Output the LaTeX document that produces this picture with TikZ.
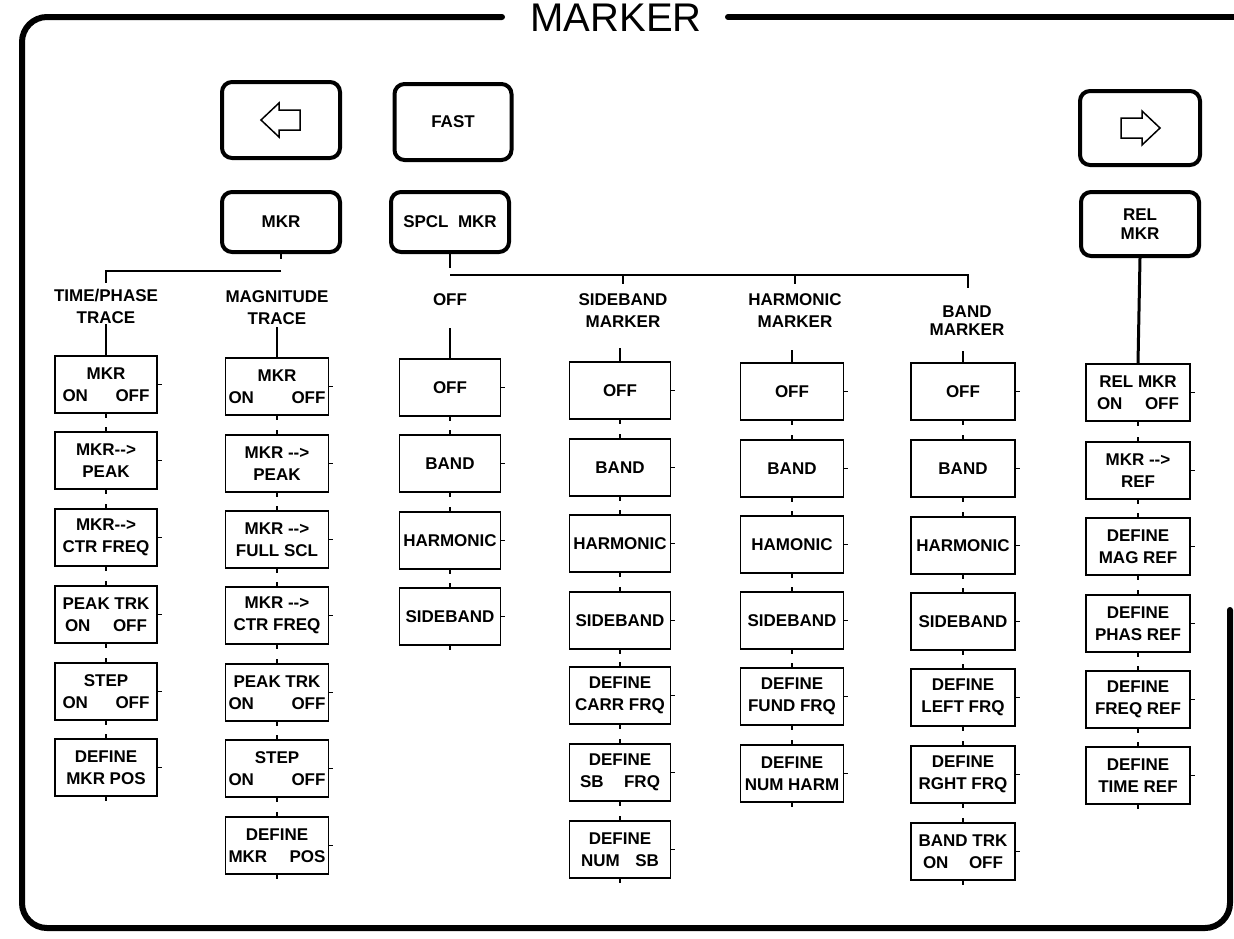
\documentclass[tikz,border=0pt]{standalone}
\usepackage{fontspec}
\setmainfont{Liberation Sans}
\newcommand\bxfont{\fontsize{17}{22}\selectfont\bfseries}
\newcommand\kyfont{\fontsize{17}{19}\selectfont\bfseries}
\newcommand\spread[3]{\makebox[#1pt]{#2\hfill #3}}
\begin{document}
\begin{tikzpicture}[x=1pt,y=-1pt,
  border/.style={line width=6pt,line cap=round,rounded corners=25pt},
  key/.style={draw,line width=4pt,rounded corners=10pt,inner sep=0pt,font=\kyfont,align=center},
  sbox/.style={draw,line width=1.6pt,minimum height=57pt,inner sep=0pt,align=center,font=\bxfont},
  lbl/.style={align=center,font=\bxfont,inner sep=0pt},
  conn/.style={line width=1.6pt},
  relconn/.style={line width=3pt},
  tick/.style={line width=1.4pt},
  arr/.style={line width=1.5pt,line join=miter}]
\useasboundingbox (0,0) rectangle (1234,938);
% frame
\node[font=\fontsize{40}{40}\selectfont,inner sep=0pt,anchor=base] (title) at (616,31) {MARKER};
\draw[border] (502,17) -- (22,17) -- (22,928) -- (1230,928) -- (1230,610);
\draw[border] (728,17) -- (1240,17);
% keys
\node[key,minimum width=118pt,minimum height=76pt] (lkey) at (281,120) {};
\node[key,minimum width=117pt,minimum height=76pt] (fast) at (453,122) {FAST};
\node[key,minimum width=120pt,minimum height=74pt] (rkey) at (1140,128) {};
\node[key,minimum width=118pt,minimum height=60pt] (mkr) at (281,222) {MKR};
\node[key,minimum width=118pt,minimum height=60pt] (spcl) at (450,222) {SPCL\ \ MKR};
\node[key,minimum width=118pt,minimum height=64pt] (rel) at (1140,224) {REL\\MKR};
\draw[arr] (lkey.center) ++(-20,0) -- ++(18,-17) -- ++(0,7) -- ++(21,0) -- ++(0,20) -- ++(-21,0) -- ++(0,7) -- cycle;
\draw[arr] (rkey.center) ++(20,0) -- ++(-18,-17) -- ++(0,7) -- ++(-21,0) -- ++(0,20) -- ++(21,0) -- ++(0,7) -- cycle;
% column labels
\node[lbl] (lA) at (106,306) {TIME/PHASE\\TRACE};
\node[lbl] (lB) at (277,308) {MAGNITUDE\\TRACE};
\node[lbl] (lC) at (450,300) {OFF};
\node[lbl] (lD) at (623,311) {SIDEBAND\\MARKER};
\node[lbl] (lE) at (795,311) {HARMONIC\\MARKER};
\node[lbl,font=\fontsize{17}{18}\selectfont\bfseries] (lF) at (967,321) {BAND\\MARKER};
% column A
\begin{scope}[every node/.append style={sbox,minimum width=102pt}]
\node (a1) at (106,384.5) {MKR\\\spread{87}{ON}{OFF}};
\node (a2) at (106,460.5) {MKR-{}->\\PEAK};
\node (a3) at (106,537.5) {MKR-{}->\\CTR FREQ};
\node (a4) at (106,614.5) {PEAK TRK\\\spread{82}{ON}{OFF}};
\node (a5) at (106,691.5) {STEP\\\spread{87}{ON}{OFF}};
\node (a6) at (106,767.5) {DEFINE\\MKR POS};
\end{scope}
% column B
\begin{scope}[every node/.append style={sbox,minimum width=103pt}]
\node (b1) at (277,386.5) {MKR\\\spread{97}{ON}{OFF}};
\node (b2) at (277,463.5) {MKR -{}->\\PEAK};
\node (b3) at (277,539.5) {MKR -{}->\\FULL SCL};
\node (b4) at (277,615.5) {MKR -{}->\\CTR FREQ};
\node (b5) at (277,692.5) {PEAK TRK\\\spread{97}{ON}{OFF}};
\node (b6) at (277,768.5) {STEP\\\spread{97}{ON}{OFF}};
\node (b7) at (277,845.5) {DEFINE\\\spread{97}{MKR}{POS}};
\end{scope}
% column C
\begin{scope}[every node/.append style={sbox,minimum width=101pt}]
\node (c1) at (450,387.5) {OFF};
\node (c2) at (450,463.5) {BAND};
\node (c3) at (450,540.5) {HARMONIC};
\node (c4) at (450,616.5) {SIDEBAND};
\end{scope}
% column D
\begin{scope}[every node/.append style={sbox,minimum width=101pt}]
\node (d1) at (620,390.5) {OFF};
\node (d2) at (620,467.5) {BAND};
\node (d3) at (620,543.5) {HARMONIC};
\node (d4) at (620,620.5) {SIDEBAND};
\node (d5) at (620,695.5) {DEFINE\\CARR FRQ};
\node (d6) at (620,772.5) {DEFINE\\\spread{80}{SB}{FRQ}};
\node (d7) at (620,849.5) {DEFINE\\\spread{78}{NUM}{SB}};
\end{scope}
% column E
\begin{scope}[every node/.append style={sbox,minimum width=103pt}]
\node (e1) at (792,391.5) {OFF};
\node (e2) at (792,468.5) {BAND};
\node (e3) at (792,544.5) {HAMONIC};
\node (e4) at (792,620.5) {SIDEBAND};
\node (e5) at (792,696.5) {DEFINE\\FUND FRQ};
\node (e6) at (792,773.5) {DEFINE\\NUM HARM};
\end{scope}
% column F
\begin{scope}[every node/.append style={sbox,minimum width=104pt}]
\node (f1) at (963,391.5) {OFF};
\node (f2) at (963,468.5) {BAND};
\node (f3) at (963,545.5) {HARMONIC};
\node (f4) at (963,621.5) {SIDEBAND};
\node (f5) at (963,697.5) {DEFINE\\LEFT FRQ};
\node (f6) at (963,774.5) {DEFINE\\RGHT FRQ};
\node (f7) at (963,851.5) {BAND TRK\\\spread{80}{ON}{OFF}};
\end{scope}
% column G
\begin{scope}[every node/.append style={sbox,minimum width=104pt}]
\node (g1) at (1138,392.5) {REL MKR\\\spread{82}{ON}{OFF}};
\node (g2) at (1138,470.5) {MKR -{}->\\REF};
\node (g3) at (1138,546.5) {DEFINE\\MAG REF};
\node (g4) at (1138,623.5) {DEFINE\\PHAS REF};
\node (g5) at (1138,699.5) {DEFINE\\FREQ REF};
\node (g6) at (1138,775.5) {DEFINE\\TIME REF};
\end{scope}
% ticks
\foreach \n in {a1,a2,a3,a4,a5,a6,b1,b2,b3,b4,b5,b6,b7,c1,c2,c3,c4,d1,d2,d3,d4,d5,d6,d7,e1,e2,e3,e4,e5,e6,f1,f2,f3,f4,f5,f6,f7,g1,g2,g3,g4,g5,g6}{
  \draw[tick] (\n.north) -- ++(0,-4);
  \draw[tick] (\n.south) -- ++(0,4);
  \draw[tick] (\n.east) -- ++(4,0);
}
% MKR tree
\coordinate (mj) at (mkr.south |- 0,271);
\coordinate (mA) at (106,271);
\draw[conn] (mkr.south) -- ([yshift=12pt]mj);
\draw[conn] (mj) -- (mA) -- ++(0,12);
\draw[conn] (a1.north) ++(0,-31) -- (a1.north);
\draw[conn] (b1.north) ++(0,-30) -- (b1.north);
% SPCL MKR tree
\coordinate (sj) at (spcl.south |- 0,275);
\coordinate (sF) at (968,275);
\draw[conn] (spcl.south) -- ([yshift=7pt]sj);
\draw[conn] (sj) -- (sF) -- ++(0,13);
\draw[conn] (623,275) -- ++(0,9);
\draw[conn] (795,275) -- ++(0,9);
\draw[conn] (c1.north) ++(0,-30) -- (c1.north);
\draw[conn] (d1.north) ++(0,-13) -- (d1.north);
\draw[conn] (e1.north) ++(0,-12) -- (e1.north);
\draw[conn] (f1.north) ++(0,-11) -- (f1.north);
% REL MKR
\draw[relconn] (rel.south) -- (g1.north);
\end{tikzpicture}
\end{document}
